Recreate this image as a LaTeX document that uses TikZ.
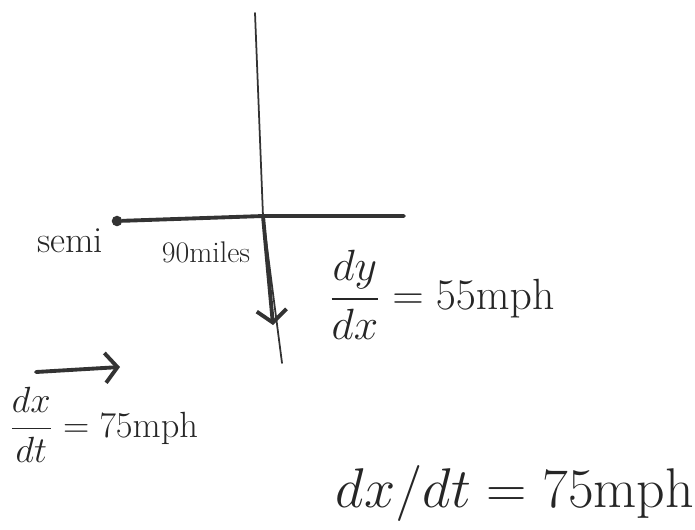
\documentclass[tikz,border=0pt]{standalone}
\usepackage{amsmath}
\usepackage{graphicx}
\usetikzlibrary{arrows.meta}
\usetikzlibrary{positioning}

\begin{document}
\begin{tikzpicture}[
    x=0.02cm, y=-0.02cm,
    pen/.style={draw=black!80, line width=2.2pt, line cap=round},
    thinpen/.style={draw=black!80, line width=1pt, line cap=round},
    barb/.style={-{Straight Barb[length=7pt, width=17pt]}},
    hand/.style={text=black!85, inner sep=0pt}
]
\useasboundingbox (0,0) rectangle (695,529);

% road and semi
\coordinate (top) at (255,13);
\coordinate (cross) at (263,216);
\coordinate (bottom) at (282,363);
\coordinate (roadend) at (404,216);
\node[circle, fill=black!80, inner sep=0pt, minimum size=6pt] (semipos) at (117,221) {};
\node[hand, font=\fontsize{21}{24}\selectfont] (semi) at (70,241) {semi};
\node[hand, font=\fontsize{17}{20}\selectfont] (dist) at (206,252) {90miles};

\draw[thinpen] (top) -- (cross) -- (bottom);
\draw[pen] (semipos) -- (cross) -- (roadend);
\coordinate (downtip) at (273,325);
\draw[pen, barb] (cross) -- (downtip);

% rates
\node[hand, font=\fontsize{24}{28}\selectfont] (vy) at (442,295) {$\dfrac{dy}{dx}=55\mathrm{mph}$};
\coordinate (arrstart) at (36,372);
\coordinate (arrtip) at (120,367);
\draw[pen, barb] (arrstart) -- (arrtip);
\node[hand, font=\fontsize{20}{24}\selectfont] (vx) at (104,425) {$\dfrac{dx}{dt}=75\mathrm{mph}$};
\node[hand, font=\fontsize{24}{28}\selectfont] (vx2) at (515,493) {\scalebox{1.28}{$dx/dt=75\mathrm{mph}$}};
\end{tikzpicture}
\end{document}
